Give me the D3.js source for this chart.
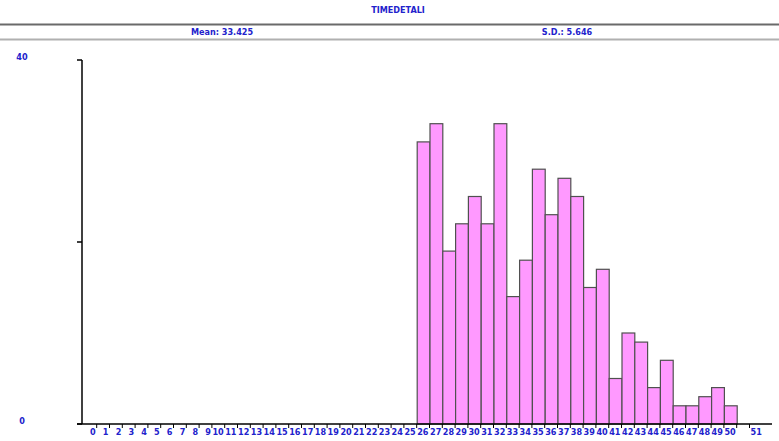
<!DOCTYPE html>
<html><head><meta charset="utf-8">
<script src="https://cdn.jsdelivr.net/npm/d3@7"></script>
<style>
html,body{margin:0;padding:0;background:#fff;}
text{font-family:"Liberation Sans Narrow","Arial Narrow","DejaVu Sans Condensed",sans-serif;font-weight:bold;fill:#2222cc;}
</style></head>
<body>
<script>
const title = "TIMEDETALI";
const meanLabel = "Mean: 33.425";
const sdLabel = "S.D.: 5.646";
const bins = d3.range(0, 51);
const counts = [0,0,0,0,0,0,0,0,0,0,0,0,0,0,0,0,0,0,0,0,0,0,0,0,0,0,
  31,33,19,22,25,22,33,14,18,28,23,27,25,15,17,5,10,9,4,7,2,2,3,4,2];
const yTickLabels = [0, 40];
const yTicks = [0, 20, 40];
const lastLabel = 51;

const W = 779, H = 441;
const svg = d3.select("body").append("svg").attr("width", W).attr("height", H);

const x = d3.scaleLinear().domain([0, 52]).range([83.9, 749.5]);
const y = d3.scaleLinear().domain([0, 40]).range([424, 60]);

// header
svg.append("text").attr("x", 398).attr("y", 12.5).attr("text-anchor", "middle")
  .style("font-size", "9px").text(title);
svg.append("line").attr("x1", 0).attr("x2", W).attr("y1", 24.5).attr("y2", 24.5)
  .attr("stroke", "#6a6a6a").attr("stroke-width", 2);
svg.append("line").attr("x1", 0).attr("x2", W).attr("y1", 39.5).attr("y2", 39.5)
  .attr("stroke", "#b0b0b0").attr("stroke-width", 2);
svg.append("text").attr("x", 222).attr("y", 35).attr("text-anchor", "middle")
  .style("font-size", "9px").text(meanLabel);
svg.append("text").attr("x", 567).attr("y", 35).attr("text-anchor", "middle")
  .style("font-size", "9px").text(sdLabel);

// bars
svg.append("g").selectAll("rect").data(bins.filter(b => counts[b] > 0)).join("rect")
  .attr("x", b => x(b) + 0.5)
  .attr("y", b => y(counts[b]))
  .attr("width", b => x(b + 1) - x(b))
  .attr("height", b => y(0) - y(counts[b]))
  .attr("fill", "#ff99ff")
  .attr("stroke", "#505050")
  .attr("stroke-width", 1.2);

// y axis
svg.append("line").attr("x1", 82).attr("x2", 82).attr("y1", y(40)).attr("y2", y(0))
  .attr("stroke", "#000").attr("stroke-width", 1.5);
svg.append("g").selectAll("line").data(yTicks).join("line")
  .attr("x1", 77).attr("x2", 82).attr("y1", d => y(d)).attr("y2", d => y(d))
  .attr("stroke", "#000").attr("stroke-width", 1.5);
svg.append("g").selectAll("text").data(yTickLabels).join("text")
  .attr("x", 22).attr("y", d => y(d)).attr("text-anchor", "middle")
  .style("font-size", "9px").text(d => d);

// x axis
svg.append("line").attr("x1", 77).attr("x2", 772).attr("y1", y(0)).attr("y2", y(0))
  .attr("stroke", "#000").attr("stroke-width", 1.5);
svg.append("g").selectAll("line").data(bins.concat([51])).join("line")
  .attr("x1", b => x(b + 1)).attr("x2", b => x(b + 1))
  .attr("y1", y(0)).attr("y2", y(0) + 4)
  .attr("stroke", "#000").attr("stroke-width", 1);
svg.append("g").selectAll("text").data(bins).join("text")
  .attr("x", b => x(b + 1) - 1).attr("y", 435).attr("text-anchor", "end")
  .style("font-size", "9px").text(b => b);
svg.append("text").attr("x", x(52) + 1).attr("y", 435).attr("text-anchor", "start")
  .style("font-size", "9px").text(lastLabel);
</script>
</body></html>
